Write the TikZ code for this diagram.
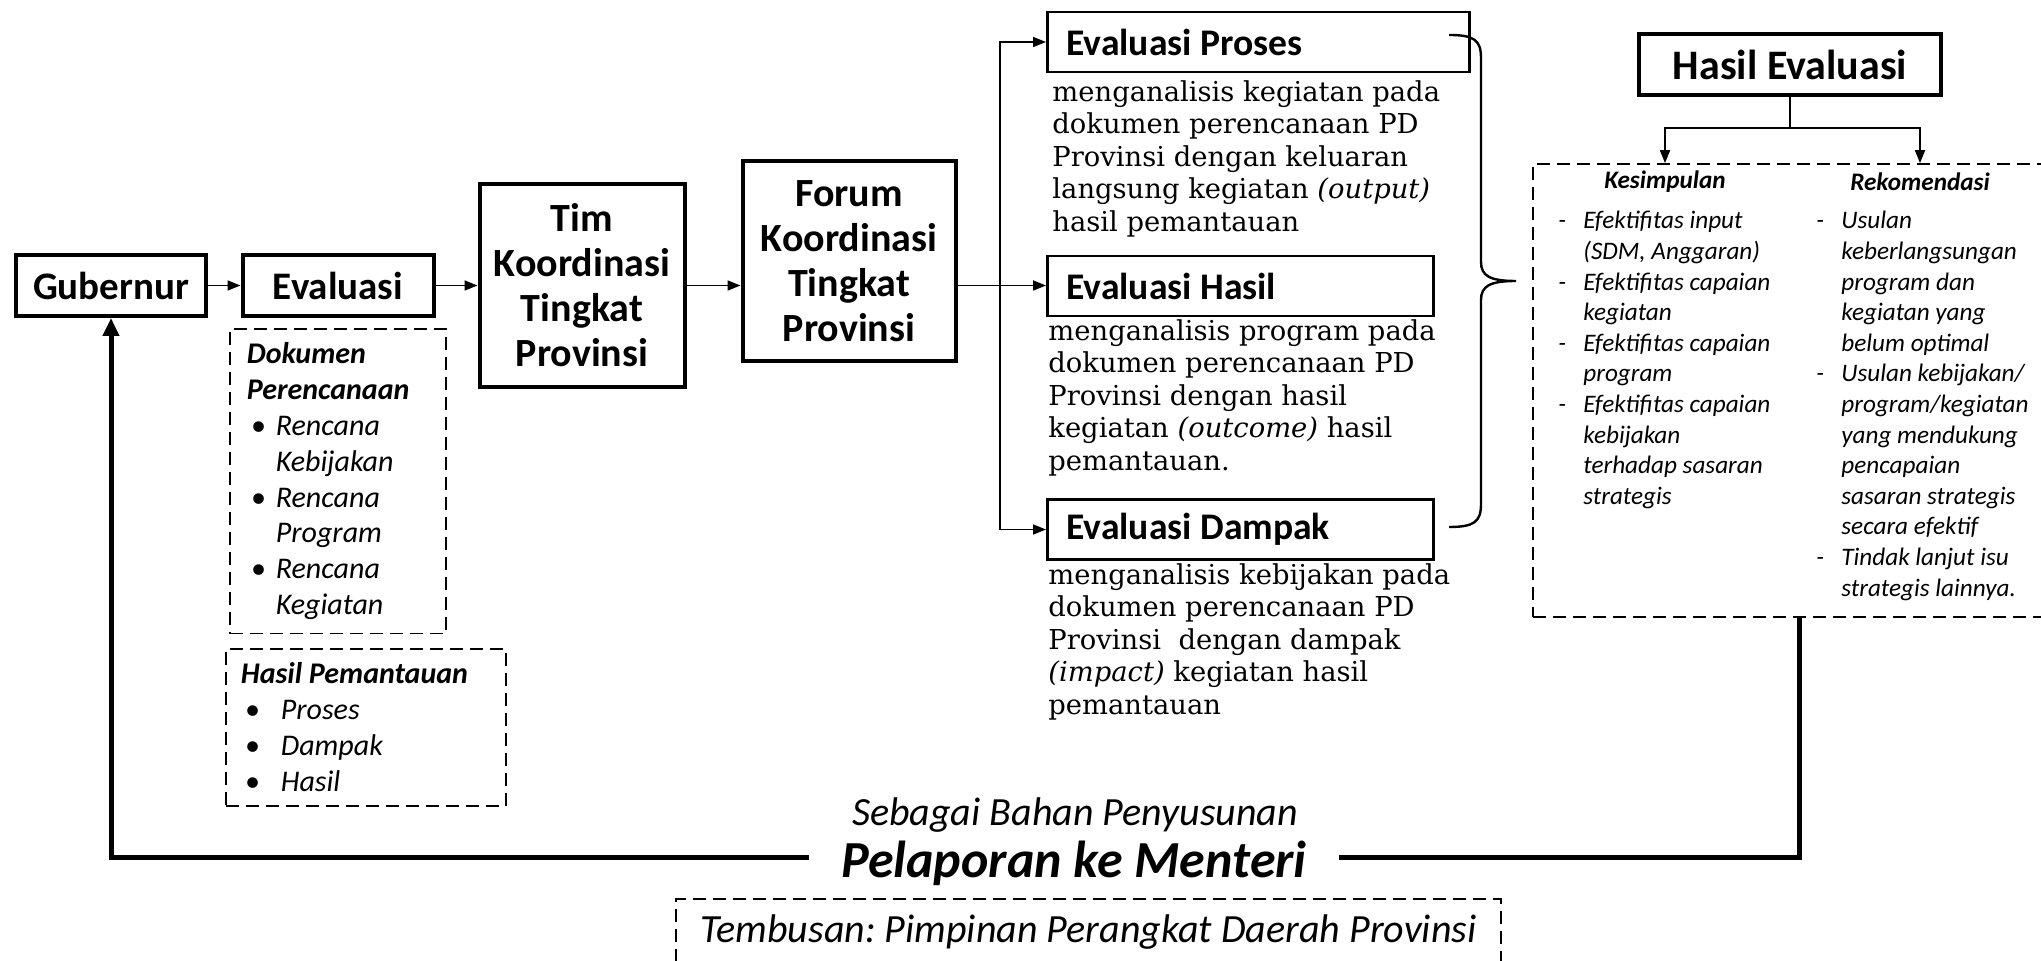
\documentclass[tikz,border=0pt]{standalone}
\usepackage{fontspec}
\setmainfont{Carlito}
\newfontfamily\descfont{DejaVu Serif}
\usetikzlibrary{arrows.meta}
\frenchspacing

\newcommand{\fsz}[2]{\fontsize{#1}{#2}\selectfont}
\newcommand{\bul}[2][14.5pt]{\makebox[#1][l]{\hspace{2pt}\textbullet}#2}
\newcommand{\bulind}[2][14.5pt]{\hspace*{#1}#2}
\newcommand{\dsh}[1]{\makebox[14.5pt][l]{\hspace{2pt}-}#1}
\newcommand{\dshind}[1]{\hspace*{14.5pt}#1}

\begin{document}
\begin{tikzpicture}[
  x=0.5pt, y=-0.5pt,
  every node/.style={inner sep=0pt},
  bigbox/.style={draw, line width=2pt, align=flush center, font=\bfseries\fsz{20}{22.5}},
  evalbox/.style={draw, line width=1.4pt, anchor=west, align=flush left, inner xsep=9.5pt,
    minimum height=30pt, font=\bfseries\fsz{18.8}{22}},
  desc/.style={anchor=north west, align=flush left, font=\descfont\fsz{13.7}{16.25}},
  dbox/.style={draw, line width=0.85pt, dash pattern=on 6.5pt off 3.5pt},
  listtext/.style={anchor=north west, align=flush left, font=\itshape\fsz{12.6}{15.3}},
  head/.style={font=\bfseries\itshape\fsz{12.6}{15}},
  conn/.style={draw, line width=0.85pt},
  arrow/.style={draw, line width=0.85pt, -{Triangle[length=6.5pt, width=5pt]}},
  feedline/.style={draw, line width=2.5pt},
  feedarrow/.style={feedline, -{Triangle[length=9pt, width=8pt]}}]

  \useasboundingbox (0,0) rectangle (2041,961);
  \clip (0,0) rectangle (2041,961);

  % ---- main chain ---------------------------------------------------------
  \node[bigbox, minimum width=95pt, minimum height=30.5pt, font=\bfseries\fsz{19.5}{22}]
    (gub) at (111,285.5) {Gubernur};
  \node[bigbox, minimum width=95.5pt, minimum height=30.5pt, font=\bfseries\fsz{19.5}{22}]
    (eval) at (338,285.5) {Evaluasi};
  \node[bigbox, minimum width=102.5pt, minimum height=101.5pt]
    (tim) at (582,285.5) {Tim\\Koordinasi\\Tingkat\\Provinsi};
  \node[bigbox, minimum width=106.5pt, minimum height=100pt]
    (forum) at (849,261) {Forum\\Koordinasi\\Tingkat\\Provinsi};

  % ---- inputs of the evaluation -------------------------------------------
  \node[dbox, anchor=north west, text width=91pt, align=flush left, inner xsep=8.5pt,
    inner ysep=7pt, font=\itshape\fsz{15}{17.9}] (dok) at (229,328)
    {\textbf{Dokumen}\\\textbf{Perencanaan}\\\bul{Rencana}\\\bulind{Kebijakan}\\
     \bul{Rencana}\\\bulind{Program}\\\bul{Rencana}\\\bulind{Kegiatan}};
  \node[dbox, anchor=north west, text width=125pt, align=flush left, inner xsep=7.5pt,
    inner ysep=7pt, font=\itshape\fsz{15}{18}] (pantau) at (225,648)
    {\textbf{Hasil Pemantauan}\\\bul[20pt]{Proses}\\\bul[20pt]{Dampak}\\\bul[20pt]{Hasil}};

  % ---- three evaluations --------------------------------------------------
  \node[evalbox, text width=192pt] (proses) at (1046,42) {Evaluasi Proses};
  \node[evalbox, text width=174pt] (hasil) at (1046,286) {Evaluasi Hasil};
  \node[evalbox, text width=174pt] (dampak) at (1046,529.5) {Evaluasi Dampak};

  \node[desc] (prosesdesc) at (1052,80)
    {menganalisis kegiatan pada\\dokumen perencanaan PD\\Provinsi dengan keluaran\\
     langsung kegiatan \textit{(output)}\\hasil pemantauan};
  \node[desc] (hasildesc) at (1048,319)
    {menganalisis program pada\\dokumen perencanaan PD\\Provinsi dengan hasil\\
     kegiatan \textit{(outcome)} hasil\\pemantauan.};
  \node[desc] (dampakdesc) at (1048,563)
    {menganalisis kebijakan pada\\dokumen perencanaan PD\\Provinsi\ \ dengan dampak\\
     \textit{(impact)} kegiatan hasil\\pemantauan};

  % brace drawn by hand: flat hooks at the ends, sharp tip in the middle
  \coordinate (bratop) at (1449,35);
  \coordinate (brabot) at (1449,527);
  \coordinate (bratip) at (1516,281);
  \draw[line width=1.2pt] (bratop) .. controls (1474,35) and (1481,40) .. (1481,58)
    -- (1481,262) .. controls (1481,276) and (1490,281) .. (bratip)
    .. controls (1490,281) and (1481,286) .. (1481,300)
    -- (1481,504) .. controls (1481,522) and (1474,527) .. (brabot);

  % ---- result -------------------------------------------------------------
  \node[bigbox, minimum width=151pt, minimum height=30.5pt, font=\bfseries\fsz{21}{24}]
    (hasev) at (1790,64.5) {Hasil Evaluasi};
  \node[dbox, minimum width=266pt, minimum height=226.5pt] (ket) at (1799,390.5) {};
  \node[head] (kesim) at (1665,182) {Kesimpulan};
  \node[head] (rekom) at (1920,182) {Rekomendasi};
  \node[listtext] (kesimlist) at (1554,211)
    {\dsh{Efektifitas input}\\\dshind{(SDM, Anggaran)}\\
     \dsh{Efektifitas capaian}\\\dshind{kegiatan}\\
     \dsh{Efektifitas capaian}\\\dshind{program}\\
     \dsh{Efektifitas capaian}\\\dshind{kebijakan}\\\dshind{terhadap sasaran}\\\dshind{strategis}};
  \node[listtext] (rekomlist) at (1812,211)
    {\dsh{Usulan}\\\dshind{keberlangsungan}\\\dshind{program dan}\\\dshind{kegiatan yang}\\
     \dshind{belum optimal}\\
     \dsh{Usulan kebijakan/}\\\dshind{program/kegiatan}\\\dshind{yang mendukung}\\
     \dshind{pencapaian}\\\dshind{sasaran strategis}\\\dshind{secara efektif}\\
     \dsh{Tindak lanjut isu}\\\dshind{strategis lainnya.}};

  % ---- reporting ----------------------------------------------------------
  \node[font=\itshape\fsz{20}{24}] (bahan) at (1075,815) {Sebagai Bahan Penyusunan};
  \node[font=\bfseries\itshape\fsz{26}{30}, inner xsep=16pt, text height=22pt, text depth=2pt]
    (lapor) at (1074,858) {Pelaporan ke Menteri};
  \node[dbox, anchor=north, minimum width=412.5pt, inner ysep=8pt, text height=14pt,
    text depth=40pt, font=\itshape\fsz{20}{24}] (tembus) at (1088.5,898)
    {Tembusan: Pimpinan Perangkat Daerah Provinsi};

  % ---- connectors ---------------------------------------------------------
  \coordinate (fork) at (1000,285.5);
  \coordinate (split) at (1790,128);
  \draw[arrow] (gub) -- (eval);
  \draw[arrow] (eval) -- (tim);
  \draw[arrow] (tim.east) -- (tim.east -| forum.west);
  \draw[conn]  (forum.east |- tim.east) -- (fork);
  \draw[arrow] (fork) -- (fork -| hasil.west);
  \draw[arrow] (fork) |- (proses.west);
  \draw[arrow] (fork) |- (dampak.west);
  \draw[conn]  (hasev) -- (split);
  \draw[arrow] (split) -| (kesim.north |- ket.north);
  \draw[arrow] (split) -| (rekom.north |- ket.north);
  \draw[feedline]  (ket.south) |- (lapor.east);
  \draw[feedarrow] (lapor.west) -| (gub.south);
\end{tikzpicture}
\end{document}
